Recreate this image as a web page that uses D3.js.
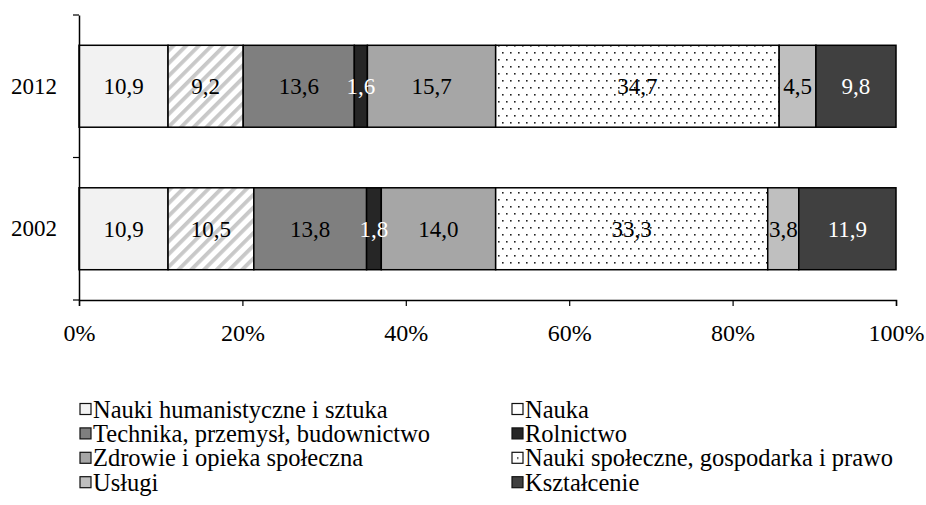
<!DOCTYPE html>
<html>
<head>
<meta charset="utf-8">
<script src="https://cdn.jsdelivr.net/npm/d3@7"></script>
<style>
  body { margin: 0; background: #fff; }
  svg { display: block; font-family: "Liberation Serif", "Times New Roman", serif; }
</style>
</head>
<body>
<svg width="926" height="505"></svg>
<script>
var years = ["2012", "2002"];
var fields = ["Nauki humanistyczne i sztuka", "Nauka", "Technika, przemysł, budownictwo", "Rolnictwo",
  "Zdrowie i opieka społeczna", "Nauki społeczne, gospodarka i prawo", "Usługi", "Kształcenie"];
var values2012 = [10.9, 9.2, 13.6, 1.6, 15.7, 34.7, 4.5, 9.8];
var values2002 = [10.9, 10.5, 13.8, 1.8, 14.0, 33.3, 3.8, 11.9];
var xTicks = [0, 20, 40, 60, 80, 100];

var fills = ["#f2f2f2", "url(#stripes)", "#7f7f7f", "#262626", "#a6a6a6", "url(#dots)", "#bfbfbf", "#404040"];
var legendFills = ["#f2f2f2", "#fff", "#7f7f7f", "#262626", "#a6a6a6", "url(#dot1)", "#bfbfbf", "#404040"];
var labelColors = ["#000", "#000", "#000", "#fff", "#000", "#000", "#000", "#fff"];

var svg = d3.select("svg");
var defs = svg.append("defs");

var stripes = defs.append("pattern")
    .attr("id", "stripes")
    .attr("patternUnits", "userSpaceOnUse")
    .attr("width", 9).attr("height", 9)
    .attr("patternTransform", "rotate(45)");
stripes.append("rect").attr("width", 9).attr("height", 9).attr("fill", "#fff");
stripes.append("rect").attr("width", 3.8).attr("height", 9).attr("fill", "#c8c8c8");

var dots = defs.append("pattern")
    .attr("id", "dots")
    .attr("patternUnits", "userSpaceOnUse")
    .attr("width", 8).attr("height", 14);
dots.append("rect").attr("width", 8).attr("height", 14).attr("fill", "#fff");
dots.append("rect").attr("x", 2).attr("y", 3).attr("width", 1.6).attr("height", 1.6).attr("fill", "#222");
dots.append("rect").attr("x", 6).attr("y", 10).attr("width", 1.6).attr("height", 1.6).attr("fill", "#222");

var dot1 = defs.append("pattern")
    .attr("id", "dot1")
    .attr("patternUnits", "objectBoundingBox")
    .attr("width", 1).attr("height", 1);
dot1.append("rect").attr("width", 11).attr("height", 11).attr("fill", "#fff");
dot1.append("rect").attr("x", 5).attr("y", 5).attr("width", 1.5).attr("height", 1.5).attr("fill", "#222");

var x = d3.scaleLinear().domain([0, 100]).range([79, 896]);
var y = d3.scaleBand().domain(years).range([15, 300]);
var barH = y.bandwidth() * 0.575;

var rows = years.map(function(yr, i) {
  var vals = i === 0 ? values2012 : values2002;
  var acc = 0;
  return vals.map(function(v, j) {
    var seg = {year: yr, idx: j, v: v, x0: acc, x1: acc + v};
    acc += v;
    return seg;
  });
});

var g = svg.append("g");

rows.forEach(function(segs) {
  var row = g.append("g");
  row.selectAll("rect")
    .data(segs)
    .enter().append("rect")
      .attr("x", function(d) { return x(d.x0); })
      .attr("y", function(d) { return y(d.year) + (y.bandwidth() - barH) / 2; })
      .attr("width", function(d) { return x(d.x1) - x(d.x0); })
      .attr("height", barH)
      .attr("fill", function(d) { return fills[d.idx]; })
      .attr("stroke", "#000")
      .attr("stroke-width", 1.5);
  row.selectAll("text")
    .data(segs)
    .enter().append("text")
      .attr("x", function(d) { return x((d.x0 + d.x1) / 2); })
      .attr("y", function(d) { return y(d.year) + y.bandwidth() / 2; })
      .attr("dy", "0.35em")
      .attr("text-anchor", "middle")
      .attr("font-size", 23)
      .attr("fill", function(d) { return labelColors[d.idx]; })
      .text(function(d) { return d3.format(".1f")(d.v).replace(".", ","); });
});

// x axis
var xAxis = g.append("g")
    .attr("transform", "translate(0,300)")
    .call(d3.axisBottom(x).tickValues(xTicks).tickSize(6).tickSizeOuter(6).tickFormat(function(d) { return d + "%"; }));
xAxis.select(".domain").attr("stroke", "#000").attr("stroke-width", 1.5);
xAxis.selectAll(".tick line").attr("stroke", "#000").attr("stroke-width", 1.2);
xAxis.selectAll("text")
    .attr("font-family", "Liberation Serif, serif")
    .attr("font-size", 24)
    .attr("fill", "#000")
    .attr("dy", "1.35em");

// y axis
var yAxis = g.append("g")
    .attr("transform", "translate(79,0)")
    .call(d3.axisLeft(y).tickSize(0));
yAxis.select(".domain").attr("stroke", "#000").attr("stroke-width", 1.5);
yAxis.selectAll("text")
    .attr("font-family", "Liberation Serif, serif")
    .attr("font-size", 23)
    .attr("fill", "#000")
    .attr("x", -22);
var bounds = [y.range()[0]].concat(years.map(function(d) { return y(d) + y.bandwidth(); }));
yAxis.selectAll(".bound")
    .data(bounds)
    .enter().append("line")
      .attr("class", "bound")
      .attr("x1", -6).attr("x2", 0)
      .attr("y1", function(d) { return d; })
      .attr("y2", function(d) { return d; })
      .attr("stroke", "#000")
      .attr("stroke-width", 1.2);

// legend
var legend = svg.append("g");
var item = legend.selectAll("g")
    .data(fields)
    .enter().append("g")
      .attr("transform", function(d, i) {
        return "translate(" + (i % 2 === 0 ? 80 : 512) + "," + (409 + Math.floor(i / 2) * 24.4) + ")";
      });
item.append("rect")
    .attr("x", 0).attr("y", -5.5)
    .attr("width", 11).attr("height", 11)
    .attr("fill", function(d, i) { return legendFills[i]; })
    .attr("stroke", "#111")
    .attr("stroke-width", 1.2);
item.append("text")
    .attr("x", 13)
    .attr("dy", "0.35em")
    .attr("font-size", 24.5)
    .text(function(d) { return d; });
</script>
</body>
</html>
